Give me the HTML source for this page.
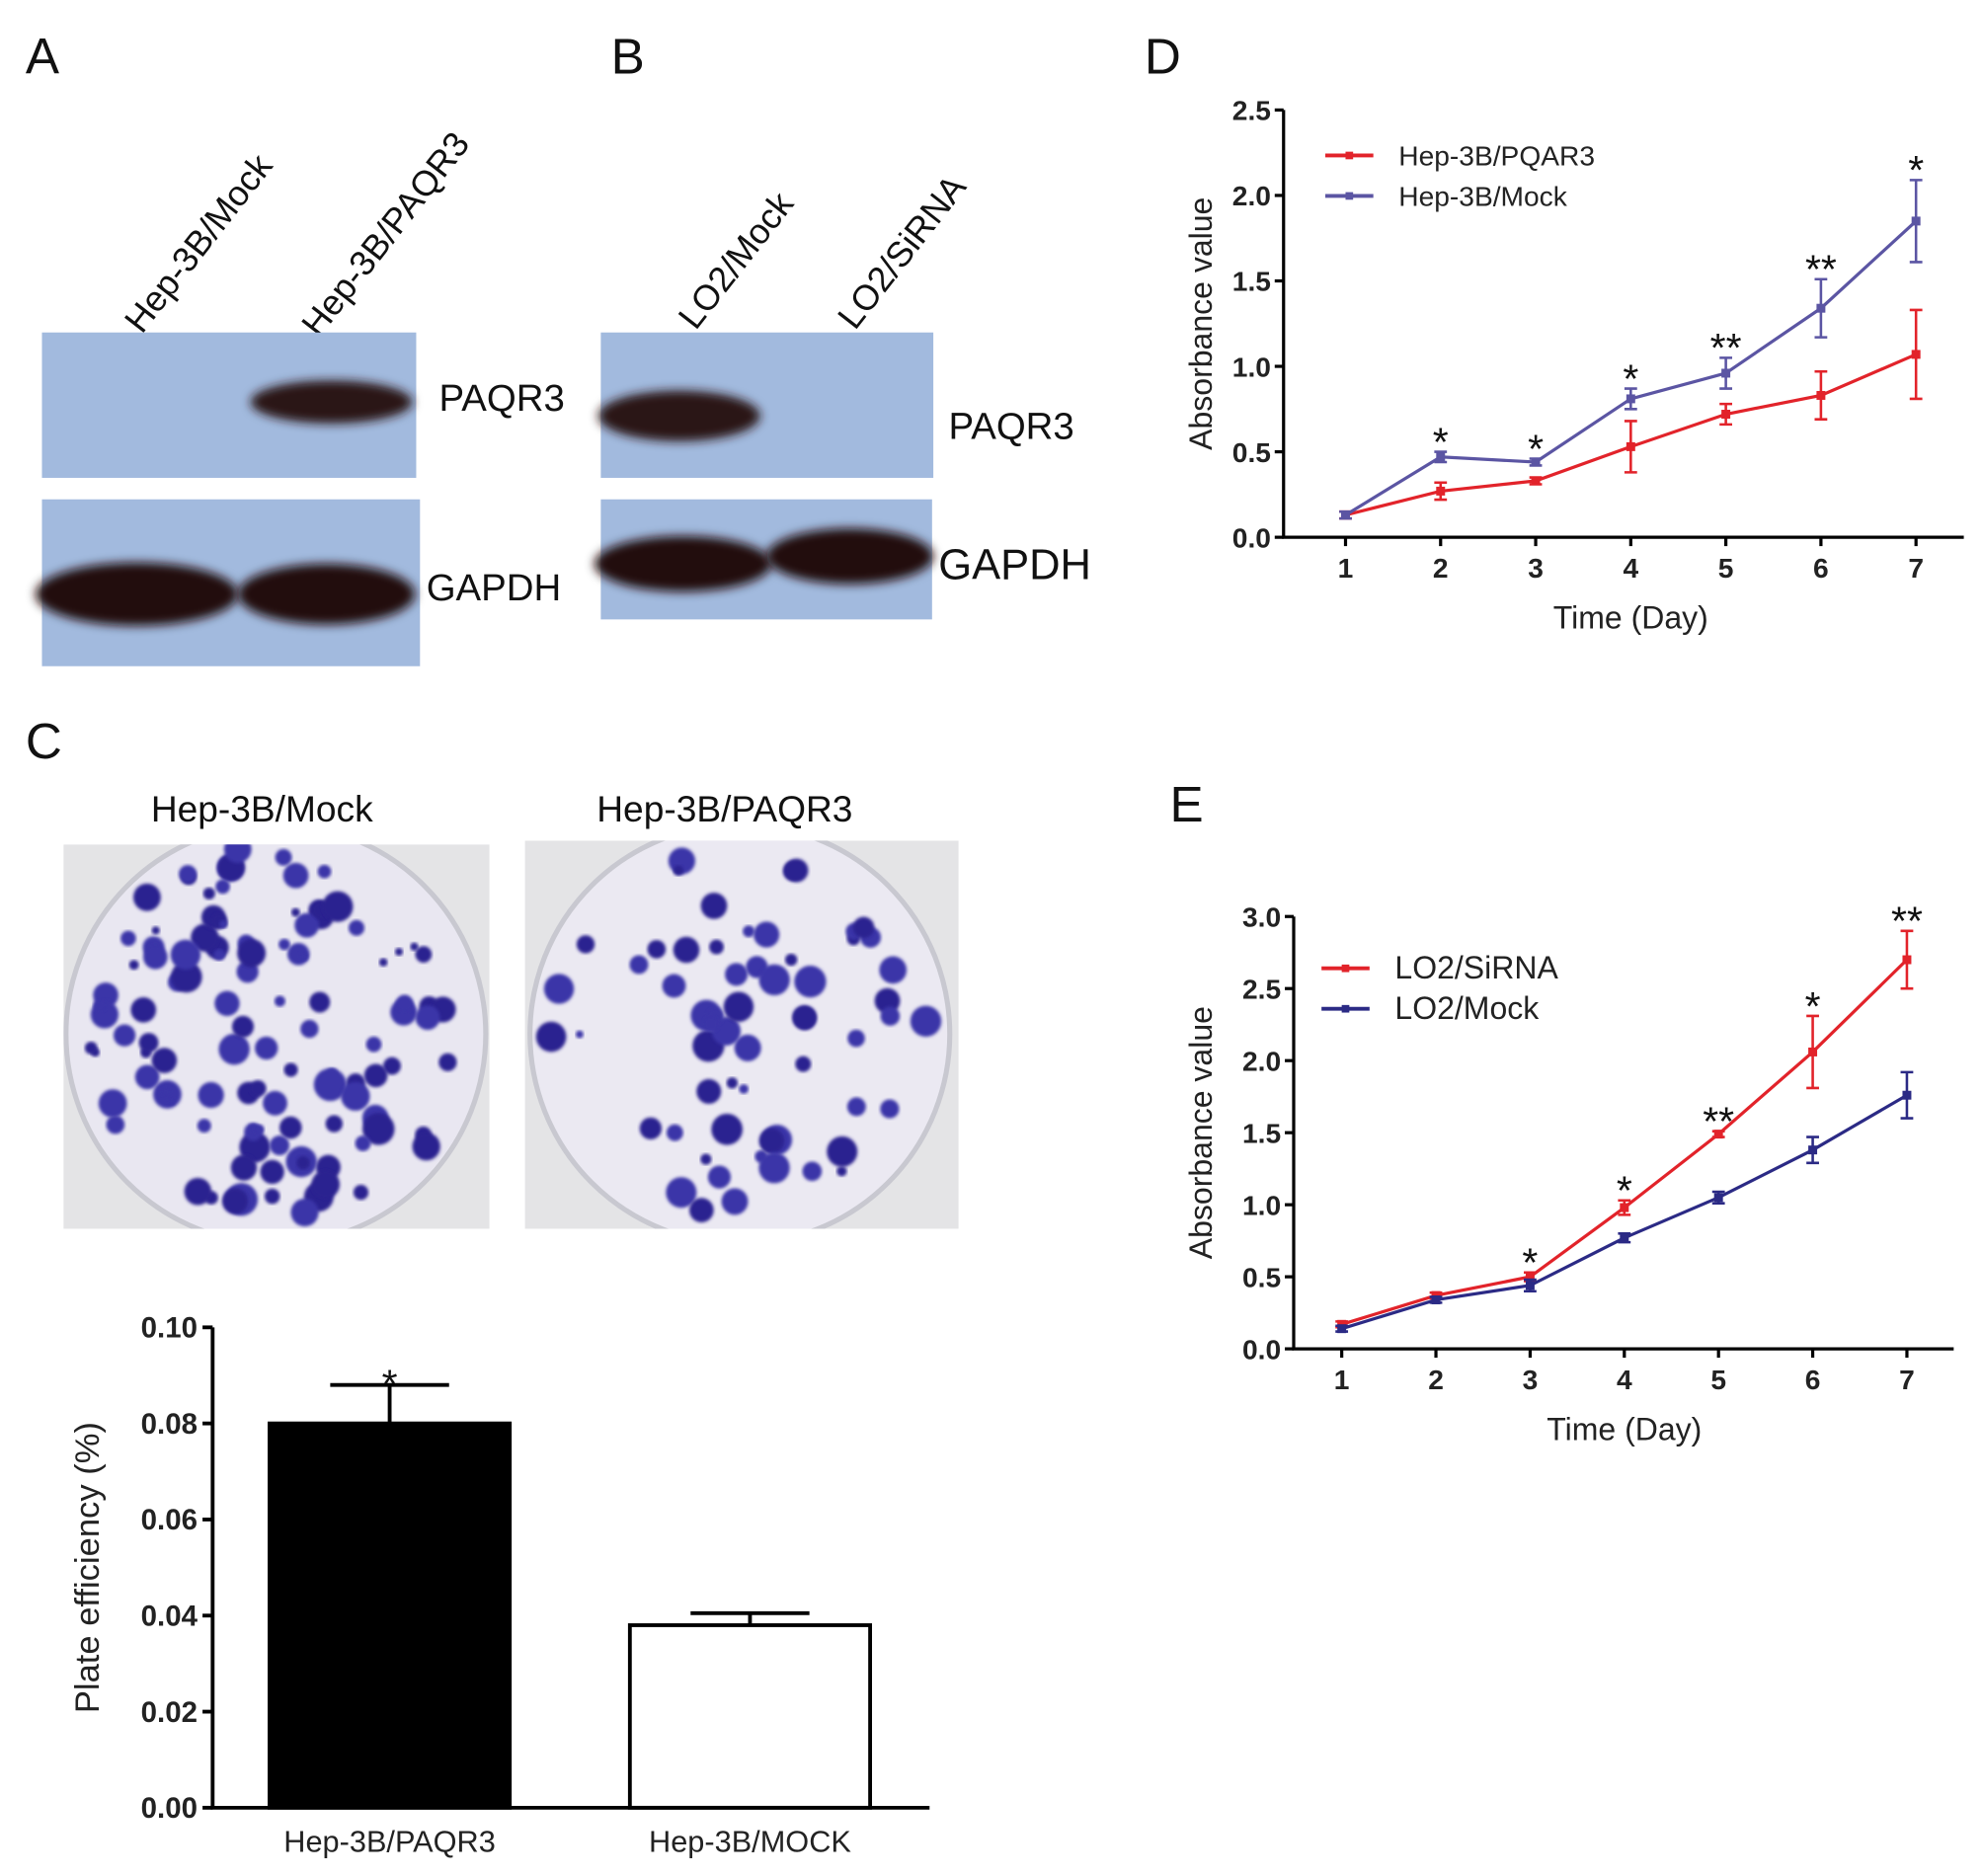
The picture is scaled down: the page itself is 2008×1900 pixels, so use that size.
<!DOCTYPE html>
<html><head><meta charset="utf-8"><style>
html,body{margin:0;padding:0;background:#fff}
svg{display:block;font-family:"Liberation Sans",Arial,sans-serif}
</style></head><body>
<svg id="fig" width="2008" height="1900" viewBox="0 0 1568 1484" xmlns="http://www.w3.org/2000/svg">
<defs>
<filter id="blur" x="-20%" y="-50%" width="140%" height="200%"><feGaussianBlur stdDeviation="4"/></filter>
<filter id="blur2"><feGaussianBlur stdDeviation="1.2"/></filter>
<clipPath id="clip1"><rect x="50" y="668" width="337" height="304"/></clipPath>
<clipPath id="clip2"><rect x="415" y="665" width="343" height="307"/></clipPath>
</defs>
<g font-size="40" fill="#111">
<text x="20" y="58">A</text>
<text x="483" y="58">B</text>
<text x="905" y="58">D</text>
<text x="20" y="600">C</text>
<text x="925" y="650">E</text>
</g>
<g>
<text transform="translate(112,265) rotate(-52)" font-size="28" fill="#111">Hep-3B/Mock</text>
<text transform="translate(252,268) rotate(-52)" font-size="28" fill="#111">Hep-3B/PAQR3</text>
<rect x="33" y="263" width="296" height="115" fill="#a2bade"/>
<ellipse cx="262" cy="318" rx="64" ry="17" fill="#2a1512" filter="url(#blur)"/>
<rect x="33" y="395" width="299" height="132" fill="#a2bade"/>
<ellipse cx="108" cy="470" rx="80" ry="25" fill="#24110f" filter="url(#blur)"/>
<ellipse cx="258" cy="470" rx="70" ry="24" fill="#24110f" filter="url(#blur)"/>
<text x="347" y="325" font-size="30" fill="#111">PAQR3</text>
<text x="337" y="475" font-size="30" fill="#111">GAPDH</text>
</g>
<g>
<text transform="translate(550,262) rotate(-52)" font-size="28" fill="#111">LO2/Mock</text>
<text transform="translate(676,262) rotate(-52)" font-size="28" fill="#111">LO2/SiRNA</text>
<rect x="475" y="263" width="263" height="115" fill="#a2bade"/>
<ellipse cx="537" cy="329" rx="64" ry="20" fill="#2a1512" filter="url(#blur)"/>
<rect x="475" y="395" width="262" height="95" fill="#a2bade"/>
<ellipse cx="540" cy="446" rx="70" ry="22" fill="#24110f" filter="url(#blur)"/>
<ellipse cx="672" cy="440" rx="66" ry="22" fill="#24110f" filter="url(#blur)"/>
<text x="750" y="347" font-size="30" fill="#111">PAQR3</text>
<text x="742" y="458" font-size="34" fill="#111">GAPDH</text>
</g>
<g>
<text x="207" y="650" font-size="29" text-anchor="middle" fill="#111">Hep-3B/Mock</text>
<text x="573" y="650" font-size="29" text-anchor="middle" fill="#111">Hep-3B/PAQR3</text>
<g clip-path="url(#clip1)">
<rect x="50" y="668" width="337" height="304" fill="#e4e4e6"/>
<circle cx="218" cy="818" r="166" fill="#e9e7f1" stroke="#c8c8d0" stroke-width="4"/>
<g id="dots1"></g>
</g>
<g clip-path="url(#clip2)">
<rect x="415" y="665" width="343" height="307" fill="#e4e4e6"/>
<circle cx="585" cy="818" r="166" fill="#ebe9f2" stroke="#c8c8d0" stroke-width="4"/>
<g id="dots2"></g>
</g>
</g>
<g id="barChart"></g>
<g id="chartD"></g>
<g id="chartE"></g>
</svg>
<script>
const barCategories = ["Hep-3B/PAQR3", "Hep-3B/MOCK"];
const barValues = [0.080, 0.038];
const barErrors = [0.008, 0.0025];
const barTicks = ["0.00","0.02","0.04","0.06","0.08","0.10"];

const dDays = [1,2,3,4,5,6,7];
const dRed = [0.13,0.27,0.33,0.53,0.72,0.83,1.07];
const dRedErr = [0.02,0.05,0.02,0.15,0.06,0.14,0.26];
const dPurple = [0.13,0.47,0.44,0.81,0.96,1.34,1.85];
const dPurpleErr = [0.02,0.03,0.02,0.06,0.09,0.17,0.24];
const dStars = ["","*","*","*","**","**","*"];
const dTicks = ["0.0","0.5","1.0","1.5","2.0","2.5"];

const eDays = [1,2,3,4,5,6,7];
const eRed = [0.17,0.37,0.50,0.98,1.49,2.06,2.70];
const eRedErr = [0.02,0.02,0.03,0.05,0.02,0.25,0.20];
const eBlue = [0.14,0.34,0.44,0.77,1.05,1.38,1.76];
const eBlueErr = [0.02,0.02,0.04,0.03,0.04,0.09,0.16];
const eStars = ["","","*","*","**","*","**"];
const eTicks = ["0.0","0.5","1.0","1.5","2.0","2.5","3.0"];

const NS="http://www.w3.org/2000/svg";
function mk(tag, attrs, parent){const e=document.createElementNS(NS,tag);for(const k in attrs)e.setAttribute(k,attrs[k]);parent.appendChild(e);return e;}

let seed=12345;function rnd(){seed=(seed*1103515245+12345)%2147483648;return seed/2147483648;}
function colonies(gid,cx,cy,n,maxr){const g=document.getElementById(gid);
for(let i=0;i<n;i++){const a=rnd()*Math.PI*2,r=Math.sqrt(rnd())*150;const rr=3+rnd()*maxr;
const c=mk('circle',{cx:cx+r*Math.cos(a),cy:cy+r*Math.sin(a),r:rr,fill:rnd()<0.5?'#3b35a8':'#2a2290',filter:'url(#blur2)'},g);

}}
colonies('dots1',218,818,110,10);
colonies('dots2',585,818,60,10);

(function(){
const g=document.getElementById('barChart');
const x0=168,y0=1430,ppu=3800,xEnd=735;
const y=v=>y0-v*ppu;
const ax=mk('path',{d:`M${x0},1050 V${y0} H${xEnd}`,stroke:'#000','stroke-width':3,fill:'none'},g);


barTicks.forEach(t=>{const yy=y(parseFloat(t));
mk('line',{x1:x0-8,x2:x0,y1:yy,y2:yy,stroke:'#000','stroke-width':3},g);
const tx=mk('text',{x:x0-12,y:yy+8,'font-size':23,'font-weight':'bold','text-anchor':'end',fill:'#222'},g);tx.textContent=t;

});
const yl=mk('text',{transform:'translate(78,1240) rotate(-90)','font-size':27,'text-anchor':'middle',fill:'#222'},g);yl.textContent='Plate efficiency (%)';


const lefts=[213,498],w=190;
barValues.forEach((v,i)=>{const cx=lefts[i]+w/2;
const top=y(v+barErrors[i]);
const e=mk('path',{d:`M${cx},${y(v)} V${top} M${cx-47},${top} H${cx+47}`,stroke:'#000','stroke-width':3,fill:'none'},g);


const b=mk('rect',{x:lefts[i],y:y(v),width:w,height:v*ppu,fill:i==0?'#000':'#fff',stroke:'#000','stroke-width':3},g);


const l=mk('text',{x:cx,y:1465,'font-size':24,'text-anchor':'middle',fill:'#222'},g);l.textContent=barCategories[i];

});
const s=mk('text',{x:lefts[0]+w/2,y:y(barValues[0]+barErrors[0])+10,'font-size':32,'text-anchor':'middle',fill:'#111'},g);s.textContent='*';


})();

function lineChart(gid,cfg){
const g=document.getElementById(gid);
const x=d=>cfg.xd1+(d-1)*cfg.step;const y=v=>cfg.y0-v*cfg.ppu;
const top=y(parseFloat(cfg.ticks[cfg.ticks.length-1]));
const ax=mk('path',{d:`M${cfg.x0},${top} V${cfg.y0} H${cfg.xEnd}`,stroke:'#000','stroke-width':2.5,fill:'none'},g);


cfg.ticks.forEach(t=>{const yy=y(parseFloat(t));
mk('line',{x1:cfg.x0-7,x2:cfg.x0,y1:yy,y2:yy,stroke:'#000','stroke-width':2.5},g);
const tx=mk('text',{x:cfg.x0-10,y:yy+8,'font-size':22,'font-weight':'bold','text-anchor':'end',fill:'#222'},g);tx.textContent=t;

});
cfg.days.forEach(d=>{mk('line',{x1:x(d),x2:x(d),y1:cfg.y0,y2:cfg.y0+7,stroke:'#000','stroke-width':2.5},g);
const tx=mk('text',{x:x(d),y:cfg.y0+32,'font-size':22,'font-weight':'bold','text-anchor':'middle',fill:'#222'},g);tx.textContent=d;

});
const yl=mk('text',{transform:`translate(${cfg.ylx},${(top+cfg.y0)/2}) rotate(-90)`,'font-size':25,'text-anchor':'middle',fill:'#222'},g);yl.textContent='Absorbance value';


const xl=mk('text',{x:(cfg.xd1+x(7))/2,y:cfg.y0+72,'font-size':25,'text-anchor':'middle',fill:'#222'},g);xl.textContent='Time (Day)';


cfg.series.forEach((s,si)=>{
const p=mk('polyline',{points:s.v.map((v,i)=>x(cfg.days[i])+','+y(v)).join(' '),stroke:s.c,'stroke-width':2.5,fill:'none'},g);


s.v.forEach((v,i)=>{const xx=x(cfg.days[i]);
const e=mk('path',{d:`M${xx},${y(v-s.e[i])} V${y(v+s.e[i])} M${xx-5},${y(v-s.e[i])} h10 M${xx-5},${y(v+s.e[i])} h10`,stroke:s.c,'stroke-width':2,fill:'none'},g);


const m=mk('rect',{x:xx-3.5,y:y(v)-3.5,width:7,height:7,fill:s.c},g);

});
const ly=cfg.legY+si*32;
mk('line',{x1:cfg.legX,x2:cfg.legX+38,y1:ly,y2:ly,stroke:s.c,'stroke-width':3},g);
mk('rect',{x:cfg.legX+16,y:ly-3,width:6,height:6,fill:s.c},g);
const lt=mk('text',{x:cfg.legX+cfg.legTx,y:ly+8,'font-size':cfg.legFs,fill:'#222'},g);lt.textContent=s.n;

});
cfg.stars.forEach((st,i)=>{if(!st)return;
const hi=Math.max(...cfg.series.map(s=>s.v[i]+s.e[i]));
const t=mk('text',{x:x(cfg.days[i]),y:y(hi)+3,'font-size':32,'text-anchor':'middle',fill:'#111'},g);t.textContent=st;

});
}
lineChart('chartD',{x0:1015,y0:425,ppu:135.2,xEnd:1553,xd1:1064,step:75.2,ticks:dTicks,days:dDays,ylx:958,
legX:1048,legY:123,legTx:58,legFs:22,stars:dStars,
series:[{n:'Hep-3B/PQAR3',c:'#e2232a',v:dRed,e:dRedErr},{n:'Hep-3B/Mock',c:'#5b55a3',v:dPurple,e:dPurpleErr}]});
lineChart('chartE',{x0:1023,y0:1067,ppu:114,xEnd:1545,xd1:1061,step:74.5,ticks:eTicks,days:eDays,ylx:958,
legX:1045,legY:766,legTx:58,legFs:25,stars:eStars,
series:[{n:'LO2/SiRNA',c:'#e2232a',v:eRed,e:eRedErr},{n:'LO2/Mock',c:'#2b2a85',v:eBlue,e:eBlueErr}]});
</script>
</body></html>
